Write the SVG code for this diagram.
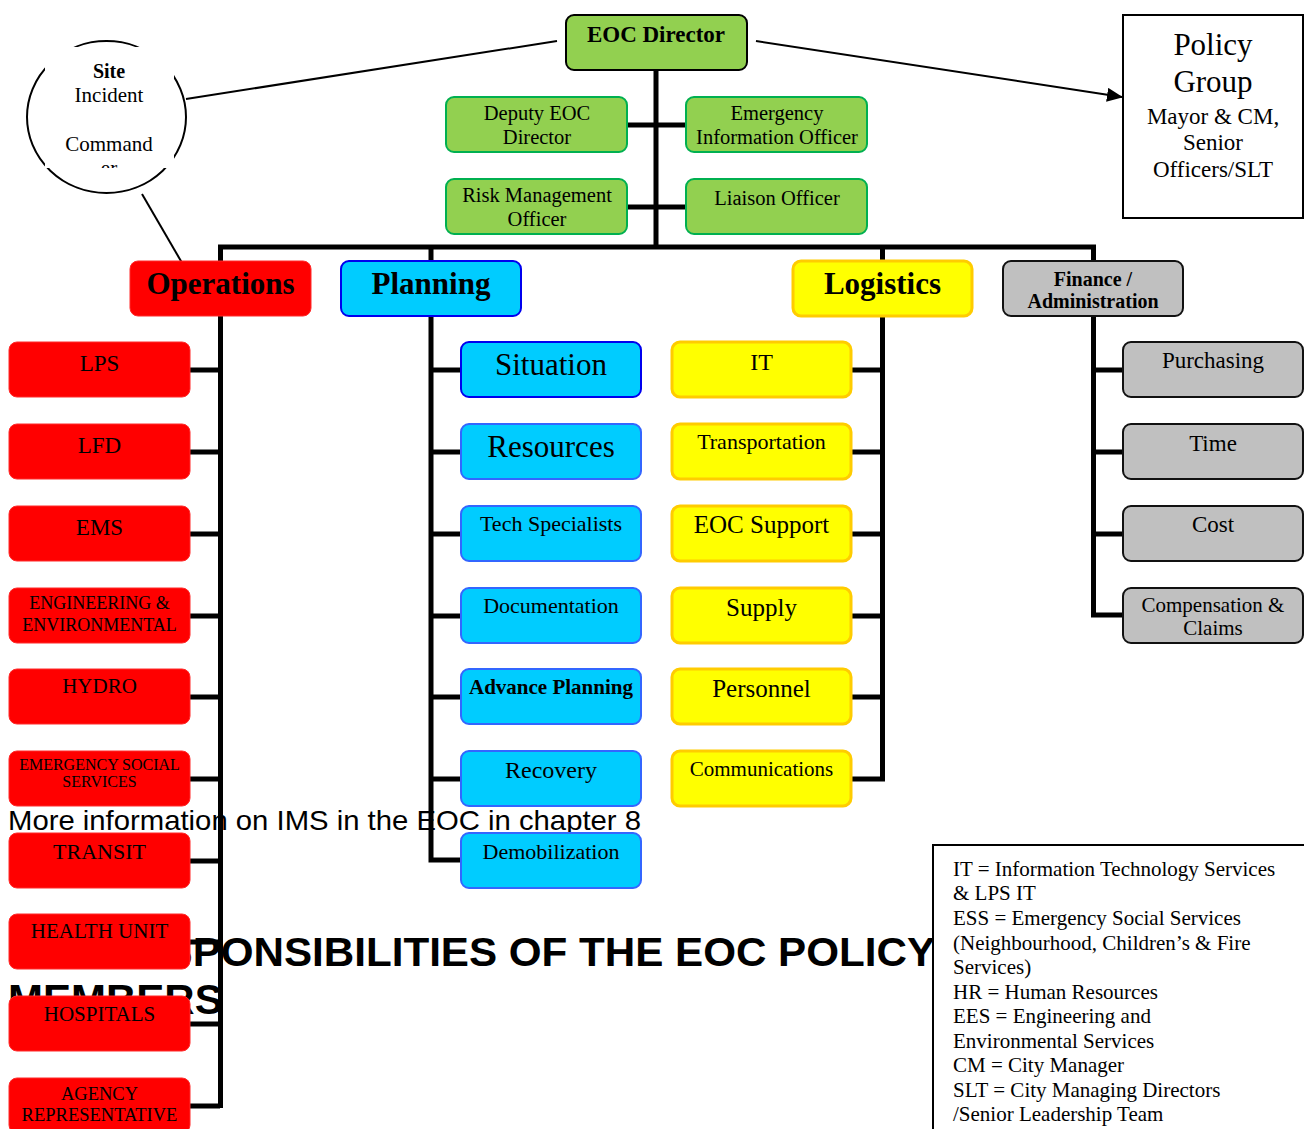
<svg xmlns="http://www.w3.org/2000/svg" width="1304" height="1129" viewBox="0 0 1304 1129">
<style>
text{font-family:"Liberation Serif","Times New Roman",serif;fill:#000;text-anchor:middle}
.b{font-weight:bold}
.sans{font-family:"Liberation Sans",Arial,sans-serif;text-anchor:start}
.ln{stroke:#000;stroke-width:5;fill:none;stroke-linejoin:miter}
.thin{stroke:#000;stroke-width:2;fill:none}
.red{fill:#ff0000;stroke:#ff2a2a;stroke-width:1}
.blue{fill:#00ccff;stroke:#3366ff;stroke-width:2}
.blueD{fill:#00ccff;stroke:#0000ee;stroke-width:2}
.yel{fill:#ffff00;stroke:#ffcc00;stroke-width:3}
.grn{fill:#92d050;stroke:#00b050;stroke-width:2}
.gry{fill:#c0c0c0;stroke:#111;stroke-width:2}
</style>
<defs>
<marker id="arr" markerWidth="16" markerHeight="14" refX="15" refY="7" orient="auto" markerUnits="userSpaceOnUse">
<path d="M0,0 L16,7 L0,14 z" fill="#000"/>
</marker>
<clipPath id="sicClip"><rect x="45" y="47" width="129" height="121"/></clipPath>
</defs>

<g id="notes">
<text class="sans" x="8" y="830" font-size="28" textLength="633" lengthAdjust="spacingAndGlyphs">More information on IMS in the EOC in chapter 8</text>
<text class="sans b" x="106" y="966" font-size="41" textLength="829" lengthAdjust="spacingAndGlyphs">RESPONSIBILITIES OF THE EOC POLICY</text>
<text class="sans b" x="8" y="1014" font-size="42">MEMBERS</text>
</g>

<g id="connectors">
<line class="thin" x1="557" y1="41" x2="186" y2="99"/>
<line class="thin" x1="756" y1="41" x2="1122" y2="97" marker-end="url(#arr)"/>
<line class="thin" x1="142" y1="194" x2="185" y2="268"/>
<line class="ln" x1="656" y1="70" x2="656" y2="247"/>
<line class="ln" x1="627" y1="125" x2="686" y2="125"/>
<line class="ln" x1="627" y1="207" x2="686" y2="207"/>
<polyline class="ln" points="220.5,1108 220.5,247 1093.5,247 1093.5,615 1123,615"/>
<line class="ln" x1="431" y1="247" x2="431" y2="262"/>
<line class="ln" x1="882.5" y1="247" x2="882.5" y2="262"/>
<polyline class="ln" points="431,316 431,860 461,860"/>
<polyline class="ln" points="882.5,316 882.5,779 851,779"/>
<path class="ln" d="M190,370H220 M190,452H220 M190,534H220 M190,616H220 M190,697H220 M190,779H220 M190,861H220 M190,942H220 M190,1024H220 M190,1106H220"/>
<path class="ln" d="M431,370H461 M431,452H461 M431,534H461 M431,616H461 M431,697H461 M431,779H461"/>
<path class="ln" d="M851,370H882 M851,452H882 M851,534H882 M851,616H882 M851,697H882"/>
<path class="ln" d="M1093,370H1123 M1093,452H1123 M1093,534H1123"/>
</g>

<g id="site-incident-commander">
<ellipse cx="106.5" cy="117" rx="79.5" ry="76" fill="#fff" stroke="#000" stroke-width="2"/>
<rect x="45" y="47" width="129" height="121" fill="#fff"/>
<g clip-path="url(#sicClip)">
<text class="b" x="109" y="78" font-size="20">Site</text>
<text x="109" y="102" font-size="21">Incident</text>
<text x="109" y="151" font-size="21">Command</text>
<text x="109" y="175" font-size="21">er</text>
</g>
</g>

<g id="eoc-director"><rect x="566" y="15" width="181" height="55" rx="8" fill="#92d050" stroke="#000" stroke-width="2"/><text class="b" x="656" y="42" font-size="23">EOC Director</text></g>
<g id="deputy"><rect class="grn" x="446" y="97" width="181" height="55" rx="8"/><text x="537" y="120" font-size="20.5">Deputy EOC</text><text x="537" y="144" font-size="20.5">Director</text></g>
<g id="eio"><rect class="grn" x="686" y="97" width="181" height="55" rx="8"/><text x="777" y="120" font-size="20.5">Emergency</text><text x="777" y="144" font-size="20.5">Information Officer</text></g>
<g id="risk"><rect class="grn" x="446" y="179" width="181" height="55" rx="8"/><text x="537" y="202" font-size="20.5">Risk Management</text><text x="537" y="226" font-size="20.5">Officer</text></g>
<g id="liaison"><rect class="grn" x="686" y="179" width="181" height="55" rx="8"/><text x="777" y="205" font-size="20.5">Liaison Officer</text></g>

<g id="policy-group">
<rect x="1123" y="15" width="180" height="203" fill="#fff" stroke="#000" stroke-width="2"/>
<text x="1213" y="55" font-size="31">Policy</text>
<text x="1213" y="92" font-size="31">Group</text>
<text x="1213" y="124" font-size="23">Mayor &amp; CM,</text>
<text x="1213" y="150" font-size="23">Senior</text>
<text x="1213" y="177" font-size="23">Officers/SLT</text>
</g>

<g id="operations"><rect class="red" x="130" y="261" width="181" height="55" rx="8"/><text class="b" x="220.5" y="294" font-size="31">Operations</text></g>
<g id="planning"><rect class="blueD" x="341" y="261" width="180" height="55" rx="8"/><text class="b" x="431" y="294" font-size="31">Planning</text></g>
<g id="logistics"><rect class="yel" x="793" y="261" width="179" height="55" rx="8"/><text class="b" x="882.5" y="294" font-size="31">Logistics</text></g>
<g id="finance"><rect class="gry" x="1003" y="261" width="180" height="55" rx="8"/><text class="b" x="1093" y="286" font-size="20">Finance /</text><text class="b" x="1093" y="308" font-size="20">Administration</text></g>

<g id="ops-lps"><rect class="red" x="9" y="342" width="181" height="55" rx="8"/><text x="99.5" y="371" font-size="23">LPS</text></g>
<g id="ops-lfd"><rect class="red" x="9" y="424" width="181" height="55" rx="8"/><text x="99.5" y="453" font-size="23">LFD</text></g>
<g id="ops-ems"><rect class="red" x="9" y="506" width="181" height="55" rx="8"/><text x="99.5" y="535" font-size="23">EMS</text></g>
<g id="ops-eng"><rect class="red" x="9" y="588" width="181" height="55" rx="8"/><text x="99.5" y="609" font-size="18">ENGINEERING &amp;</text><text x="99.5" y="631" font-size="18">ENVIRONMENTAL</text></g>
<g id="ops-hydro"><rect class="red" x="9" y="669" width="181" height="55" rx="8"/><text x="99.5" y="693" font-size="21">HYDRO</text></g>
<g id="ops-ess"><rect class="red" x="9" y="751" width="181" height="55" rx="8"/><text x="99.5" y="770" font-size="16">EMERGENCY SOCIAL</text><text x="99.5" y="787" font-size="16">SERVICES</text></g>
<g id="ops-transit"><rect class="red" x="9" y="833" width="181" height="55" rx="8"/><text x="99.5" y="859" font-size="22">TRANSIT</text></g>
<g id="ops-health"><rect class="red" x="9" y="914" width="181" height="55" rx="8"/><text x="99.5" y="938" font-size="21">HEALTH UNIT</text></g>
<g id="ops-hospitals"><rect class="red" x="9" y="996" width="181" height="55" rx="8"/><text x="99.5" y="1021" font-size="21">HOSPITALS</text></g>
<g id="ops-agency"><rect class="red" x="9" y="1078" width="181" height="55" rx="8"/><text x="99.5" y="1100" font-size="18.5">AGENCY</text><text x="99.5" y="1121" font-size="18.5">REPRESENTATIVE</text></g>

<g id="plan-situation"><rect class="blueD" x="461" y="342" width="180" height="55" rx="8"/><text x="551" y="375" font-size="31">Situation</text></g>
<g id="plan-resources"><rect class="blue" x="461" y="424" width="180" height="55" rx="8"/><text x="551" y="457" font-size="31">Resources</text></g>
<g id="plan-tech"><rect class="blue" x="461" y="506" width="180" height="55" rx="8"/><text x="551" y="531" font-size="22">Tech Specialists</text></g>
<g id="plan-doc"><rect class="blue" x="461" y="588" width="180" height="55" rx="8"/><text x="551" y="613" font-size="22">Documentation</text></g>
<g id="plan-advance"><rect class="blue" x="461" y="669" width="180" height="55" rx="8"/><text class="b" x="551" y="694" font-size="21">Advance Planning</text></g>
<g id="plan-recovery"><rect class="blue" x="461" y="751" width="180" height="55" rx="8"/><text x="551" y="778" font-size="24">Recovery</text></g>
<g id="plan-demob"><rect class="blue" x="461" y="833" width="180" height="55" rx="8"/><text x="551" y="859" font-size="22">Demobilization</text></g>

<g id="log-it"><rect class="yel" x="672" y="342" width="179" height="55" rx="8"/><text x="761.5" y="370" font-size="24">IT</text></g>
<g id="log-transport"><rect class="yel" x="672" y="424" width="179" height="55" rx="8"/><text x="761.5" y="449" font-size="22">Transportation</text></g>
<g id="log-eocsupport"><rect class="yel" x="672" y="506" width="179" height="55" rx="8"/><text x="761.5" y="533" font-size="25">EOC Support</text></g>
<g id="log-supply"><rect class="yel" x="672" y="588" width="179" height="55" rx="8"/><text x="761.5" y="616" font-size="25">Supply</text></g>
<g id="log-personnel"><rect class="yel" x="672" y="669" width="179" height="55" rx="8"/><text x="761.5" y="697" font-size="25">Personnel</text></g>
<g id="log-comms"><rect class="yel" x="672" y="751" width="179" height="55" rx="8"/><text x="761.5" y="776" font-size="21">Communications</text></g>

<g id="fin-purchasing"><rect class="gry" x="1123" y="342" width="180" height="55" rx="8"/><text x="1213" y="368" font-size="23">Purchasing</text></g>
<g id="fin-time"><rect class="gry" x="1123" y="424" width="180" height="55" rx="8"/><text x="1213" y="451" font-size="23">Time</text></g>
<g id="fin-cost"><rect class="gry" x="1123" y="506" width="180" height="55" rx="8"/><text x="1213" y="532" font-size="23">Cost</text></g>
<g id="fin-comp"><rect class="gry" x="1123" y="588" width="180" height="55" rx="8"/><text x="1213" y="612" font-size="21">Compensation &amp;</text><text x="1213" y="635" font-size="21">Claims</text></g>

<g id="legend">
<rect x="933" y="845" width="380" height="300" fill="#fff" stroke="#000" stroke-width="2"/>
<g font-size="21" style="text-anchor:start">
<text x="953" y="876" style="text-anchor:start">IT = Information Technology Services</text>
<text x="953" y="900" style="text-anchor:start">&amp; LPS IT</text>
<text x="953" y="925" style="text-anchor:start">ESS = Emergency Social Services</text>
<text x="953" y="950" style="text-anchor:start">(Neighbourhood, Children’s  &amp; Fire</text>
<text x="953" y="974" style="text-anchor:start">Services)</text>
<text x="953" y="999" style="text-anchor:start">HR = Human Resources</text>
<text x="953" y="1023" style="text-anchor:start">EES = Engineering and</text>
<text x="953" y="1048" style="text-anchor:start">Environmental Services</text>
<text x="953" y="1072" style="text-anchor:start">CM = City Manager</text>
<text x="953" y="1097" style="text-anchor:start">SLT = City Managing Directors</text>
<text x="953" y="1121" style="text-anchor:start">/Senior Leadership Team</text>
</g>
</g>
</svg>
